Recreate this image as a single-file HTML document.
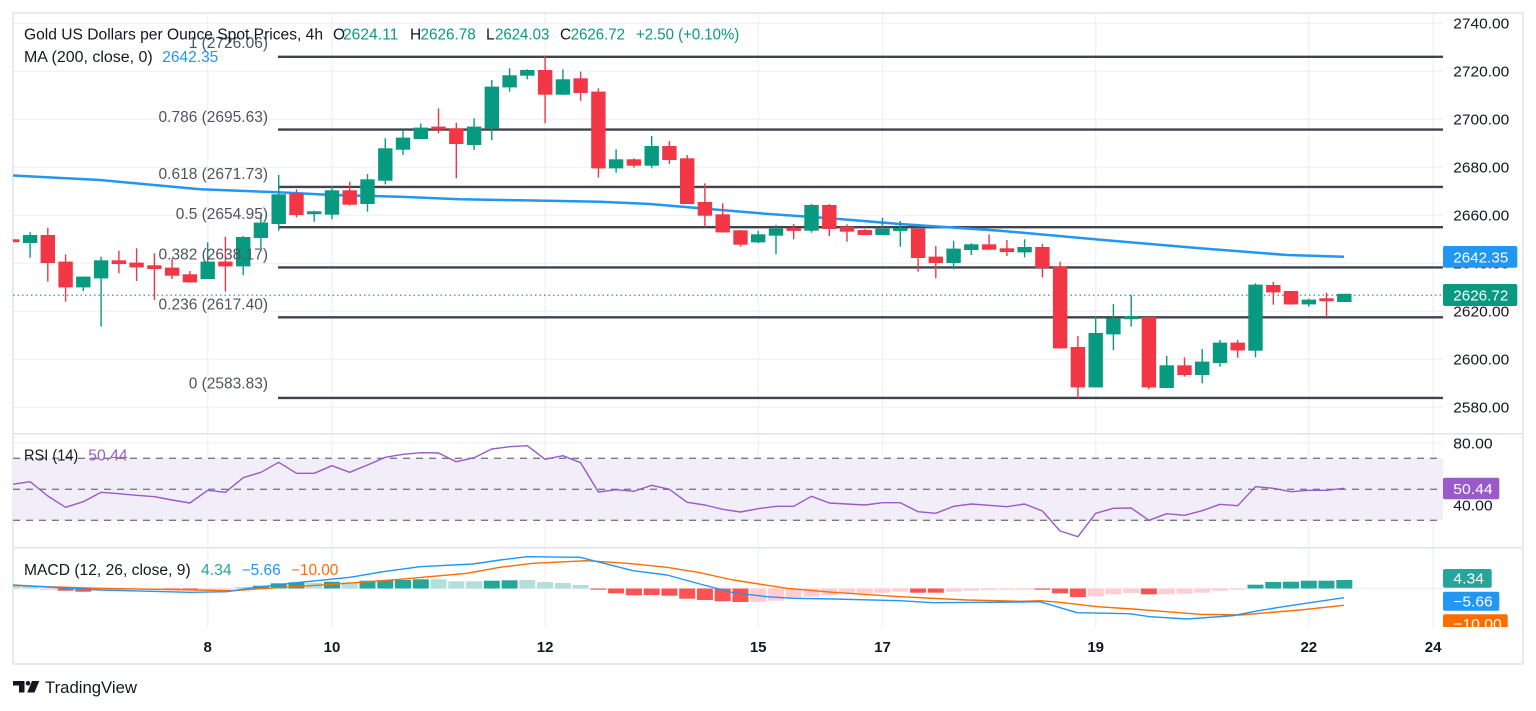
<!DOCTYPE html>
<html><head><meta charset="utf-8"><style>
html,body{margin:0;padding:0;background:#fff;}
svg{display:block;}
text{font-family:"Liberation Sans",Arial,sans-serif;}
</style></head><body>
<svg width="1536" height="711" viewBox="0 0 1536 711" xmlns="http://www.w3.org/2000/svg">
<defs>
<clipPath id="cm"><rect x="13" y="13" width="1430" height="420"/></clipPath>
<clipPath id="cr"><rect x="13" y="434" width="1430" height="113"/></clipPath>
<clipPath id="cd"><rect x="13" y="548" width="1430" height="79"/></clipPath>
<clipPath id="cdl"><rect x="1436" y="548" width="90" height="79"/></clipPath>
</defs>
<rect width="1536" height="711" fill="#fff"/>
<!-- vertical grid -->
<g stroke="#eef0f4" stroke-width="1.2">
<line x1="207.7" y1="13" x2="207.7" y2="627"/><line x1="332" y1="13" x2="332" y2="627"/>
<line x1="545.1" y1="13" x2="545.1" y2="627"/><line x1="758.2" y1="13" x2="758.2" y2="627"/>
<line x1="882.5" y1="13" x2="882.5" y2="627"/><line x1="1095.7" y1="13" x2="1095.7" y2="627"/>
<line x1="1308.8" y1="13" x2="1308.8" y2="627"/><line x1="1433.1" y1="13" x2="1433.1" y2="627"/>
</g>
<!-- horizontal grid main -->
<g stroke="#eef0f4" stroke-width="1.2">
<line x1="13" y1="23.3" x2="1443" y2="23.3"/><line x1="13" y1="71.3" x2="1443" y2="71.3"/>
<line x1="13" y1="119.3" x2="1443" y2="119.3"/><line x1="13" y1="167.3" x2="1443" y2="167.3"/>
<line x1="13" y1="215.3" x2="1443" y2="215.3"/><line x1="13" y1="263.3" x2="1443" y2="263.3"/>
<line x1="13" y1="311.3" x2="1443" y2="311.3"/><line x1="13" y1="359.3" x2="1443" y2="359.3"/>
<line x1="13" y1="407.3" x2="1443" y2="407.3"/>
<line x1="13" y1="442.9" x2="1443" y2="442.9"/><line x1="13" y1="504.6" x2="1443" y2="504.6"/>
<line x1="13" y1="588.5" x2="1443" y2="588.5"/>
</g>
<!-- frame and separators -->
<g stroke="#e0e3eb" stroke-width="1.5" fill="none">
<rect x="13" y="13" width="1510" height="651"/>
<line x1="13" y1="433.7" x2="1523" y2="433.7"/>
<line x1="13" y1="547.7" x2="1523" y2="547.7"/>
</g>

<!-- MAIN PANE -->
<g clip-path="url(#cm)">
<!-- fib lines -->
<g stroke="#40434c" stroke-width="2.4">
<line x1="278" y1="56.8" x2="1443" y2="56.8"/>
<line x1="278" y1="129.6" x2="1443" y2="129.6"/>
<line x1="278" y1="186.9" x2="1443" y2="186.9"/>
<line x1="278" y1="227.2" x2="1443" y2="227.2"/>
<line x1="278" y1="267.4" x2="1443" y2="267.4"/>
<line x1="278" y1="317.3" x2="1443" y2="317.3"/>
<line x1="278" y1="397.9" x2="1443" y2="397.9"/>
</g>
<!-- current price dotted -->
<line x1="13" y1="295.2" x2="1443" y2="295.2" stroke="#089981" stroke-width="1.2" stroke-dasharray="1.5 3"/>
<!-- MA -->
<polyline fill="none" stroke="#2196f3" stroke-width="2.5" stroke-linejoin="round" points="13,175.5 100,180 200,189.3 278,192.3 333,195 400,196.7 460,199.3 520,200.3 600,201.7 650,204 700,208.3 760,213.3 830,218.3 900,224 1000,230.7 1095,239.3 1200,248.3 1287,255 1344,256.7"/>
<!-- candles -->
<g stroke-width="1.4">
<g stroke="#f23645" fill="#f23645">
<line x1="12.3" y1="238" x2="12.3" y2="243"/><rect x="5.8" y="240" width="13" height="1.5"/>
<line x1="47.8" y1="227.7" x2="47.8" y2="281.7"/><rect x="41.3" y="235.7" width="13" height="26.6"/>
<line x1="65.6" y1="254.3" x2="65.6" y2="301.7"/><rect x="59.1" y="262.3" width="13" height="24.4"/>
<line x1="118.9" y1="250.7" x2="118.9" y2="273.3"/><rect x="112.4" y="261" width="13" height="2.3"/>
<line x1="136.6" y1="248.3" x2="136.6" y2="281"/><rect x="130.1" y="263.3" width="13" height="3.4"/>
<line x1="154.4" y1="253.3" x2="154.4" y2="300"/><rect x="147.9" y="266" width="13" height="2.3"/>
<line x1="172.1" y1="258.3" x2="172.1" y2="279"/><rect x="165.6" y="268.3" width="13" height="6.7"/>
<line x1="189.9" y1="271" x2="189.9" y2="282.7"/><rect x="183.4" y="275" width="13" height="6.7"/>
<line x1="225.4" y1="236.7" x2="225.4" y2="291.7"/><rect x="218.9" y="262.3" width="13" height="3.4"/>
<line x1="296.5" y1="189.3" x2="296.5" y2="217.3"/><rect x="290" y="194" width="13" height="20.3"/>
<line x1="349.7" y1="181.7" x2="349.7" y2="205.7"/><rect x="343.2" y="191" width="13" height="13"/>
<line x1="438.5" y1="108.3" x2="438.5" y2="133.3"/><rect x="432" y="127.3" width="13" height="1.5"/>
<line x1="456.3" y1="122.7" x2="456.3" y2="178.3"/><rect x="449.8" y="129" width="13" height="14.3"/>
<line x1="545.1" y1="56" x2="545.1" y2="123.3"/><rect x="538.6" y="70.7" width="13" height="23.3"/>
<line x1="580.6" y1="71.7" x2="580.6" y2="100.7"/><rect x="574.1" y="79" width="13" height="13.3"/>
<line x1="598.4" y1="88.3" x2="598.4" y2="177.7"/><rect x="591.9" y="92.3" width="13" height="75.4"/>
<line x1="633.9" y1="158.3" x2="633.9" y2="167.7"/><rect x="627.4" y="160" width="13" height="5"/>
<line x1="669.4" y1="141" x2="669.4" y2="164"/><rect x="662.9" y="146.7" width="13" height="12.6"/>
<line x1="687.2" y1="155" x2="687.2" y2="204"/><rect x="680.7" y="159" width="13" height="44.3"/>
<line x1="704.9" y1="183.3" x2="704.9" y2="226.7"/><rect x="698.4" y="202.7" width="13" height="12.3"/>
<line x1="722.7" y1="203.3" x2="722.7" y2="232.7"/><rect x="716.2" y="215" width="13" height="16.7"/>
<line x1="740.5" y1="230" x2="740.5" y2="246.7"/><rect x="734" y="231" width="13" height="13"/>
<line x1="793.7" y1="224" x2="793.7" y2="239.3"/><rect x="787.2" y="228.7" width="13" height="1.5"/>
<line x1="829.3" y1="204" x2="829.3" y2="236"/><rect x="822.8" y="205.7" width="13" height="22.6"/>
<line x1="847" y1="224.3" x2="847" y2="241.7"/><rect x="840.5" y="227.3" width="13" height="3.7"/>
<line x1="864.8" y1="229.3" x2="864.8" y2="235"/><rect x="858.3" y="230.7" width="13" height="3.6"/>
<line x1="918.1" y1="229.3" x2="918.1" y2="271.7"/><rect x="911.6" y="229.3" width="13" height="28"/>
<line x1="935.8" y1="246" x2="935.8" y2="278.3"/><rect x="929.3" y="257.3" width="13" height="5"/>
<line x1="989.1" y1="234.3" x2="989.1" y2="250"/><rect x="982.6" y="245" width="13" height="4"/>
<line x1="1006.9" y1="240" x2="1006.9" y2="256"/><rect x="1000.4" y="249" width="13" height="2.3"/>
<line x1="1042.4" y1="244" x2="1042.4" y2="277.3"/><rect x="1035.9" y="247.7" width="13" height="19.6"/>
<line x1="1060.1" y1="261.7" x2="1060.1" y2="348.7"/><rect x="1053.6" y="267.3" width="13" height="80.4"/>
<line x1="1077.9" y1="336" x2="1077.9" y2="398.3"/><rect x="1071.4" y="347.7" width="13" height="39"/>
<line x1="1148.9" y1="317.7" x2="1148.9" y2="389.3"/><rect x="1142.4" y="317.7" width="13" height="69"/>
<line x1="1184.5" y1="357.3" x2="1184.5" y2="376.7"/><rect x="1178" y="366" width="13" height="8.3"/>
<line x1="1237.7" y1="340" x2="1237.7" y2="357.7"/><rect x="1231.2" y="343.3" width="13" height="6.4"/>
<line x1="1273.3" y1="282" x2="1273.3" y2="304.7"/><rect x="1266.8" y="285.7" width="13" height="6"/>
<line x1="1291" y1="290.7" x2="1291" y2="304.7"/><rect x="1284.5" y="291.7" width="13" height="12"/>
<line x1="1326.5" y1="292.7" x2="1326.5" y2="316.7"/><rect x="1320" y="299" width="13" height="1.5"/>
</g>
<g stroke="#089981" fill="#089981">
<line x1="30.1" y1="232.3" x2="30.1" y2="257.7"/><rect x="23.6" y="235.7" width="13" height="6.6"/>
<line x1="83.3" y1="277" x2="83.3" y2="291"/><rect x="76.8" y="277.3" width="13" height="9.4"/>
<line x1="101.1" y1="256.7" x2="101.1" y2="326.7"/><rect x="94.6" y="261" width="13" height="16.7"/>
<line x1="207.7" y1="242.3" x2="207.7" y2="278.3"/><rect x="201.2" y="262.3" width="13" height="16"/>
<line x1="243.2" y1="236" x2="243.2" y2="275.3"/><rect x="236.7" y="237.7" width="13" height="28"/>
<line x1="260.9" y1="215" x2="260.9" y2="248.3"/><rect x="254.4" y="223.3" width="13" height="14"/>
<line x1="278.7" y1="175" x2="278.7" y2="230.7"/><rect x="272.2" y="195" width="13" height="28.3"/>
<line x1="314.2" y1="210.7" x2="314.2" y2="221.7"/><rect x="307.7" y="212" width="13" height="1.5"/>
<line x1="332" y1="186" x2="332" y2="219.3"/><rect x="325.5" y="191" width="13" height="23"/>
<line x1="367.5" y1="174" x2="367.5" y2="211.7"/><rect x="361" y="180" width="13" height="23.3"/>
<line x1="385.3" y1="138.3" x2="385.3" y2="184.3"/><rect x="378.8" y="149" width="13" height="31"/>
<line x1="403" y1="130" x2="403" y2="155"/><rect x="396.5" y="138.3" width="13" height="10.7"/>
<line x1="420.8" y1="123.3" x2="420.8" y2="139.3"/><rect x="414.3" y="128.3" width="13" height="10"/>
<line x1="474.1" y1="118.3" x2="474.1" y2="150"/><rect x="467.6" y="127.3" width="13" height="17"/>
<line x1="491.8" y1="80" x2="491.8" y2="140"/><rect x="485.3" y="87.3" width="13" height="40.4"/>
<line x1="509.6" y1="68.3" x2="509.6" y2="91.7"/><rect x="503.1" y="76" width="13" height="10.7"/>
<line x1="527.3" y1="69.3" x2="527.3" y2="79.3"/><rect x="520.8" y="70.7" width="13" height="4.3"/>
<line x1="562.9" y1="69.3" x2="562.9" y2="95"/><rect x="556.4" y="80" width="13" height="14"/>
<line x1="616.1" y1="149.3" x2="616.1" y2="172.7"/><rect x="609.6" y="160" width="13" height="7.7"/>
<line x1="651.7" y1="136" x2="651.7" y2="168.3"/><rect x="645.2" y="146.7" width="13" height="18.3"/>
<line x1="758.2" y1="230.7" x2="758.2" y2="243.3"/><rect x="751.7" y="235" width="13" height="6.7"/>
<line x1="776" y1="225" x2="776" y2="254"/><rect x="769.5" y="229.3" width="13" height="5.7"/>
<line x1="811.5" y1="204" x2="811.5" y2="232.7"/><rect x="805" y="205.7" width="13" height="24.3"/>
<line x1="882.5" y1="217.7" x2="882.5" y2="235"/><rect x="876" y="229.3" width="13" height="5"/>
<line x1="900.3" y1="221" x2="900.3" y2="246.7"/><rect x="893.8" y="228.7" width="13" height="1.5"/>
<line x1="953.6" y1="240.7" x2="953.6" y2="269.3"/><rect x="947.1" y="249.3" width="13" height="13"/>
<line x1="971.3" y1="243.3" x2="971.3" y2="255"/><rect x="964.8" y="245" width="13" height="4.3"/>
<line x1="1024.6" y1="239.3" x2="1024.6" y2="257.3"/><rect x="1018.1" y="247.7" width="13" height="4"/>
<line x1="1095.7" y1="316" x2="1095.7" y2="386.7"/><rect x="1089.2" y="333.7" width="13" height="53"/>
<line x1="1113.4" y1="304" x2="1113.4" y2="350"/><rect x="1106.9" y="319" width="13" height="14.7"/>
<line x1="1131.2" y1="295" x2="1131.2" y2="326.7"/><rect x="1124.7" y="317" width="13" height="1.5"/>
<line x1="1166.7" y1="356" x2="1166.7" y2="388.3"/><rect x="1160.2" y="366" width="13" height="21.3"/>
<line x1="1202.2" y1="349" x2="1202.2" y2="383.3"/><rect x="1195.7" y="362.3" width="13" height="12"/>
<line x1="1220" y1="340" x2="1220" y2="366.7"/><rect x="1213.5" y="343.3" width="13" height="19"/>
<line x1="1255.5" y1="283.3" x2="1255.5" y2="357.3"/><rect x="1249" y="285.3" width="13" height="64.7"/>
<line x1="1308.8" y1="298.7" x2="1308.8" y2="306.7"/><rect x="1302.3" y="300.3" width="13" height="3.4"/>
<rect x="1337.8" y="294.5" width="13" height="6.8"/>
</g>
</g>
</g>

<!-- fib labels -->
<g fill="#50535e" font-size="15.5" text-anchor="end">
<text x="268" y="48.2">1 (2726.06)</text>
<text x="268" y="122.2">0.786 (2695.63)</text>
<text x="268" y="178.8">0.618 (2671.73)</text>
<text x="268" y="218.8">0.5 (2654.95)</text>
<text x="268" y="259.5">0.382 (2638.17)</text>
<text x="268" y="309.5">0.236 (2617.40)</text>
<text x="268" y="388.5">0 (2583.83)</text>
</g>

<!-- legend main -->
<g font-size="15.5">
<text x="24" y="39.5" fill="#131722" textLength="299" lengthAdjust="spacingAndGlyphs">Gold US Dollars per Ounce Spot Prices, 4h</text>
<text x="333" y="39.5" fill="#131722">O</text>
<text x="343" y="39.5" fill="#089981" textLength="55.3" lengthAdjust="spacingAndGlyphs">2624.11</text>
<text x="410" y="39.5" fill="#131722">H</text>
<text x="420.5" y="39.5" fill="#089981" textLength="55.2" lengthAdjust="spacingAndGlyphs">2626.78</text>
<text x="486" y="39.5" fill="#131722">L</text>
<text x="495" y="39.5" fill="#089981" textLength="54.3" lengthAdjust="spacingAndGlyphs">2624.03</text>
<text x="560" y="39.5" fill="#131722">C</text>
<text x="570.7" y="39.5" fill="#089981" textLength="54.3" lengthAdjust="spacingAndGlyphs">2626.72</text>
<text x="636" y="39.5" fill="#089981" textLength="103.3" lengthAdjust="spacingAndGlyphs">+2.50 (+0.10%)</text>
<text x="24" y="62.2" fill="#131722" textLength="128.7" lengthAdjust="spacingAndGlyphs">MA (200, close, 0)</text>
<text x="162.3" y="62.2" fill="#2196f3" textLength="56" lengthAdjust="spacingAndGlyphs">2642.35</text>
</g>

<!-- RSI PANE -->
<g clip-path="url(#cr)">
<rect x="13" y="458.3" width="1430" height="62" fill="#f2eef9"/>
<g stroke="#787b86" stroke-width="1.3" stroke-dasharray="7 6">
<line x1="13" y1="458.3" x2="1443" y2="458.3"/>
<line x1="13" y1="489.3" x2="1443" y2="489.3"/>
<line x1="13" y1="520.3" x2="1443" y2="520.3"/>
</g>
<polyline fill="none" stroke="#9b59c9" stroke-width="1.4" stroke-linejoin="round" points="12.3,484.3 30.1,481.7 47.8,496 65.6,507.3 83.3,501.7 101.1,492.3 118.9,493.7 136.6,495.3 154.4,496.7 172.1,500 189.9,503 207.7,490.3 225.4,492.3 243.2,477.7 260.9,472.3 278.7,462.3 296.5,473.3 314.2,473.3 332,465.7 349.7,472.3 367.5,465 385.3,457.3 403,454.3 420.8,452.7 438.5,453 456.3,461.7 474.1,457.7 491.8,449 509.6,446.7 527.3,445.7 545.1,459.3 562.9,455.7 580.6,462.7 598.4,492 616.1,489.7 633.9,491.3 651.7,485.3 669.4,489.3 687.2,502.3 704.9,505 722.7,509.3 740.5,512 758.2,508.7 776,506.3 793.7,506.3 811.5,496.3 829.3,503 847,504 864.8,505 882.5,502.7 900.3,502.7 918.1,511.7 935.8,513.3 953.6,506.3 971.3,504 989.1,505.3 1006.9,506.7 1024.6,504 1042.4,511 1060.1,531 1077.9,536.7 1095.7,513.3 1113.4,508.3 1131.2,508 1148.9,520.3 1166.7,513.7 1184.5,515.3 1202.2,510.7 1220,504.3 1237.7,505.7 1255.5,486.7 1273.3,488.3 1291,491.7 1308.8,490.3 1326.5,490.3 1344.3,488.3"/>
</g>
<g font-size="15.5">
<text x="24" y="460.5" fill="#131722" textLength="54.3" lengthAdjust="spacingAndGlyphs">RSI (14)</text>
<text x="88.3" y="460.5" fill="#9b59c9" textLength="39.3" lengthAdjust="spacingAndGlyphs">50.44</text>
</g>

<!-- MACD PANE -->
<g clip-path="url(#cd)">
<g fill="#b2dfdb">
<rect x="4.3" y="587" width="16" height="1.5"/><rect x="22.1" y="587" width="16" height="1.5"/>
<rect x="235.2" y="587" width="16" height="1.5"/>
<rect x="306.2" y="582.7" width="16" height="5.8"/><rect x="341.7" y="582.3" width="16" height="6.2"/>
<rect x="430.5" y="579.3" width="16" height="9.2"/><rect x="448.3" y="581.3" width="16" height="7.2"/>
<rect x="466.1" y="581.3" width="16" height="7.2"/>
<rect x="519.3" y="580" width="16" height="8.5"/><rect x="537.1" y="582" width="16" height="6.5"/>
<rect x="554.9" y="583" width="16" height="5.5"/><rect x="572.6" y="585" width="16" height="3.5"/>
</g>
<g fill="#26a69a">
<rect x="252.9" y="585.7" width="16" height="2.8"/><rect x="270.7" y="583.3" width="16" height="5.2"/>
<rect x="288.5" y="582.3" width="16" height="6.2"/><rect x="324" y="581.7" width="16" height="6.8"/>
<rect x="359.5" y="580.7" width="16" height="7.8"/><rect x="377.3" y="580.3" width="16" height="8.2"/>
<rect x="395" y="580" width="16" height="8.5"/><rect x="412.8" y="579.3" width="16" height="9.2"/>
<rect x="483.8" y="580.7" width="16" height="7.8"/><rect x="501.6" y="580.3" width="16" height="8.2"/>
<rect x="1247.5" y="584.7" width="16" height="3.8"/><rect x="1265.3" y="582" width="16" height="6.5"/>
<rect x="1283" y="581.7" width="16" height="6.8"/><rect x="1300.8" y="580.7" width="16" height="7.8"/>
<rect x="1318.5" y="580.7" width="16" height="7.8"/><rect x="1336.3" y="580" width="16" height="8.5"/>
</g>
<g fill="#ff5252">
<rect x="57.6" y="588.5" width="16" height="2.2"/><rect x="75.3" y="588.5" width="16" height="3.2"/>
<rect x="164.1" y="588.5" width="16" height="1.5"/><rect x="181.9" y="588.5" width="16" height="2"/>
<rect x="590.4" y="588.5" width="16" height="1.2"/><rect x="608.1" y="588.5" width="16" height="4.8"/>
<rect x="625.9" y="588.5" width="16" height="6.8"/><rect x="643.7" y="588.5" width="16" height="6.5"/>
<rect x="661.4" y="588.5" width="16" height="7.2"/><rect x="679.2" y="588.5" width="16" height="10.2"/>
<rect x="696.9" y="588.5" width="16" height="11.5"/><rect x="714.7" y="588.5" width="16" height="12.8"/>
<rect x="732.5" y="588.5" width="16" height="13.5"/>
<rect x="910.1" y="588.5" width="16" height="4.2"/><rect x="927.8" y="588.5" width="16" height="4.2"/>
<rect x="1034.4" y="588.5" width="16" height="1.2"/><rect x="1052.1" y="588.5" width="16" height="4.8"/>
<rect x="1069.9" y="588.5" width="16" height="8.5"/><rect x="1140.9" y="588.5" width="16" height="5.8"/>
</g>
<g fill="#ffcdd2">
<rect x="39.8" y="588.5" width="16" height="1.5"/><rect x="93.1" y="588.5" width="16" height="2"/>
<rect x="110.9" y="588.5" width="16" height="1.5"/><rect x="128.6" y="588.5" width="16" height="1.2"/>
<rect x="146.4" y="588.5" width="16" height="1.2"/><rect x="199.7" y="588.5" width="16" height="1.5"/>
<rect x="217.4" y="588.5" width="16" height="1.2"/>
<rect x="750.2" y="588.5" width="16" height="13.5"/><rect x="768" y="588.5" width="16" height="12.2"/>
<rect x="785.7" y="588.5" width="16" height="9.2"/><rect x="803.5" y="588.5" width="16" height="8.2"/>
<rect x="821.3" y="588.5" width="16" height="6.5"/><rect x="839" y="588.5" width="16" height="4.5"/>
<rect x="856.8" y="588.5" width="16" height="4.8"/><rect x="874.5" y="588.5" width="16" height="4.2"/>
<rect x="892.3" y="588.5" width="16" height="3.2"/>
<rect x="945.6" y="588.5" width="16" height="3.2"/><rect x="963.3" y="588.5" width="16" height="2.2"/>
<rect x="981.1" y="588.5" width="16" height="1.5"/><rect x="998.9" y="588.5" width="16" height="1.2"/>
<rect x="1016.6" y="588.5" width="16" height="1.2"/>
<rect x="1087.7" y="588.5" width="16" height="7.8"/><rect x="1105.4" y="588.5" width="16" height="5.8"/>
<rect x="1123.2" y="588.5" width="16" height="4.5"/><rect x="1158.7" y="588.5" width="16" height="5.8"/>
<rect x="1176.5" y="588.5" width="16" height="5.2"/><rect x="1194.2" y="588.5" width="16" height="4.2"/>
<rect x="1212" y="588.5" width="16" height="2.2"/><rect x="1229.7" y="588.5" width="16" height="1.2"/>
</g>
<polyline fill="none" stroke="#ff6d00" stroke-width="1.4" stroke-linejoin="round" points="13,585.7 100,588.3 233,590.7 267,588.3 333,584.3 400,579.3 467,573.3 500,567.3 533,563.3 587,560.7 627,563.3 667,567.3 700,572.7 733,580 787,588.3 833,592.3 900,596.7 967,600 1020,601.3 1040,600.7 1060,602.3 1097,606.7 1133,609 1200,614.3 1240,615 1300,610 1344,605.3"/>
<polyline fill="none" stroke="#2196f3" stroke-width="1.4" stroke-linejoin="round" points="13,585 100,590 190,592.3 227,591.7 253,587.7 300,582.3 350,577.3 383,571.7 420,566.7 473,564 500,560 527,556.7 580,557.3 600,562.3 633,570.7 667,575 700,584 733,592.7 767,596.7 793,598.3 833,599 900,600.7 933,602.7 1020,602 1040,601.7 1077,612.7 1129,613.7 1150,616.7 1187,619 1233,615.7 1253,611.7 1283,606.7 1344,597.7"/>
</g>
<g font-size="15.5">
<text x="24" y="574.8" fill="#131722" textLength="166.7" lengthAdjust="spacingAndGlyphs">MACD (12, 26, close, 9)</text>
<text x="201" y="574.8" fill="#26a69a" textLength="30.7" lengthAdjust="spacingAndGlyphs">4.34</text>
<text x="241.7" y="574.8" fill="#2196f3" textLength="39" lengthAdjust="spacingAndGlyphs">−5.66</text>
<text x="291" y="574.8" fill="#ff6d00" textLength="47.3" lengthAdjust="spacingAndGlyphs">−10.00</text>
</g>

<!-- PRICE AXIS -->
<g font-size="15" fill="#131722">
<text x="1453.3" y="28.7" textLength="56" lengthAdjust="spacingAndGlyphs">2740.00</text>
<text x="1453.3" y="76.7" textLength="56" lengthAdjust="spacingAndGlyphs">2720.00</text>
<text x="1453.3" y="124.7" textLength="56" lengthAdjust="spacingAndGlyphs">2700.00</text>
<text x="1453.3" y="172.7" textLength="56" lengthAdjust="spacingAndGlyphs">2680.00</text>
<text x="1453.3" y="220.7" textLength="56" lengthAdjust="spacingAndGlyphs">2660.00</text>
<text x="1453.3" y="268.7" textLength="56" lengthAdjust="spacingAndGlyphs">2640.00</text>
<text x="1453.3" y="316.7" textLength="56" lengthAdjust="spacingAndGlyphs">2620.00</text>
<text x="1453.3" y="364.7" textLength="56" lengthAdjust="spacingAndGlyphs">2600.00</text>
<text x="1453.3" y="412.7" textLength="56" lengthAdjust="spacingAndGlyphs">2580.00</text>
<text x="1453.3" y="448.7" textLength="39.4" lengthAdjust="spacingAndGlyphs">80.00</text>
<text x="1453.3" y="510.4" textLength="39.4" lengthAdjust="spacingAndGlyphs">40.00</text>
</g>
<rect x="1443" y="246" width="74.3" height="21.7" rx="2" fill="#2196f3"/>
<text x="1453.3" y="262.3" font-size="15" fill="#fff" textLength="55" lengthAdjust="spacingAndGlyphs">2642.35</text>
<rect x="1443" y="284" width="74.3" height="22" rx="2" fill="#089981"/>
<text x="1453.3" y="300.4" font-size="15" fill="#fff" textLength="55" lengthAdjust="spacingAndGlyphs">2626.72</text>
<rect x="1443" y="477.7" width="56.3" height="21.6" rx="2" fill="#9b59c9"/>
<text x="1453.3" y="493.9" font-size="15" fill="#fff" textLength="39.4" lengthAdjust="spacingAndGlyphs">50.44</text>
<g clip-path="url(#cdl)">
<rect x="1443" y="569" width="48.7" height="18.7" rx="2" fill="#26a69a"/>
<text x="1453.3" y="583.7" font-size="15" fill="#fff" textLength="30.7" lengthAdjust="spacingAndGlyphs">4.34</text>
<rect x="1443" y="591.7" width="56.3" height="19" rx="2" fill="#2196f3"/>
<text x="1453.3" y="606.6" font-size="15" fill="#fff" textLength="39.4" lengthAdjust="spacingAndGlyphs">−5.66</text>
<rect x="1443" y="614.3" width="64.7" height="19" rx="2" fill="#ff6d00"/>
<text x="1453.3" y="629.2" font-size="15" fill="#fff" textLength="48.4" lengthAdjust="spacingAndGlyphs">−10.00</text>
</g>

<!-- TIME AXIS -->
<g font-size="15" font-weight="bold" fill="#131722" text-anchor="middle">
<text x="207.7" y="652.1">8</text>
<text x="332" y="652.1">10</text>
<text x="545.1" y="652.1">12</text>
<text x="758.2" y="652.1">15</text>
<text x="882.5" y="652.1">17</text>
<text x="1095.7" y="652.1">19</text>
<text x="1308.8" y="652.1">22</text>
<text x="1433.1" y="652.1">24</text>
</g>

<!-- TradingView logo -->
<g fill="#131722">
<path d="M13 681 H24.5 V692.5 H19 V685.5 H13 Z"/>
<circle cx="28" cy="683.3" r="2.3"/>
<path d="M32 681 H39.3 L34.5 692.5 H27.2 Z"/>
</g>
<text x="45" y="692.8" font-size="17" fill="#131722" textLength="92" lengthAdjust="spacingAndGlyphs">TradingView</text>
</svg>
</body></html>
